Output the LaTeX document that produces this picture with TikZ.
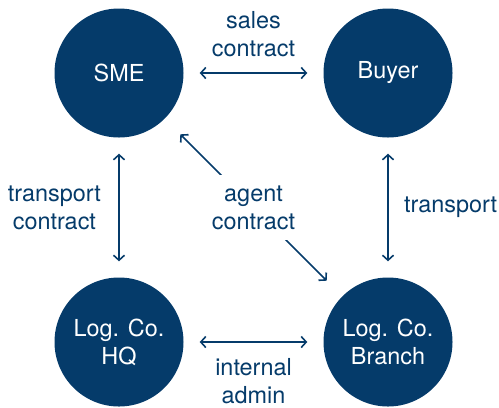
\documentclass[tikz,border=0pt]{standalone}
\usepackage{fontspec}
\setmainfont{TeX Gyre Heros}
\usetikzlibrary{arrows.meta}
\definecolor{navy}{RGB}{5,59,106}

\begin{document}
\begin{tikzpicture}[x=1bp, y=-1bp, >={Straight Barb[length=5bp, width=11bp]},
		party/.style={circle, fill=navy, text=white, minimum size=129bp, inner sep=0pt, align=center, font=\fontsize{23.5}{28}\selectfont},
		rel/.style={<->, draw=navy, line width=1.6bp, shorten >=16bp, shorten <=16bp},
		lbl/.style={text=navy, align=center, font=\fontsize{23.5}{28}\selectfont}]
		\useasboundingbox (0, 0) rectangle (499, 407);
		\node[party] (sme) at (119, 73) {SME};
		\node[party] (buyer) at (388, 73) {Buyer};
		\node[party] (hq) at (119, 342) {Log. Co.\\HQ};
		\node[party] (branch) at (388, 342) {Log. Co.\\Branch};
		\draw[rel] (sme) -- node[lbl, above=12bp] {sales\\contract} (buyer);
		\draw[rel] (sme) -- node[lbl, left=14bp] {transport\\contract} (hq);
		\draw[rel] (buyer) -- node[lbl, right=12bp] {transport} (branch);
		\draw[rel] (hq) -- node[lbl, below=12bp] {internal\\admin} (branch);
		\draw[rel, shorten >=22bp, shorten <=22bp] (sme) -- node[lbl, fill=white, inner sep=11bp] {agent\\contract} (branch);
	\end{tikzpicture}
\end{document}
